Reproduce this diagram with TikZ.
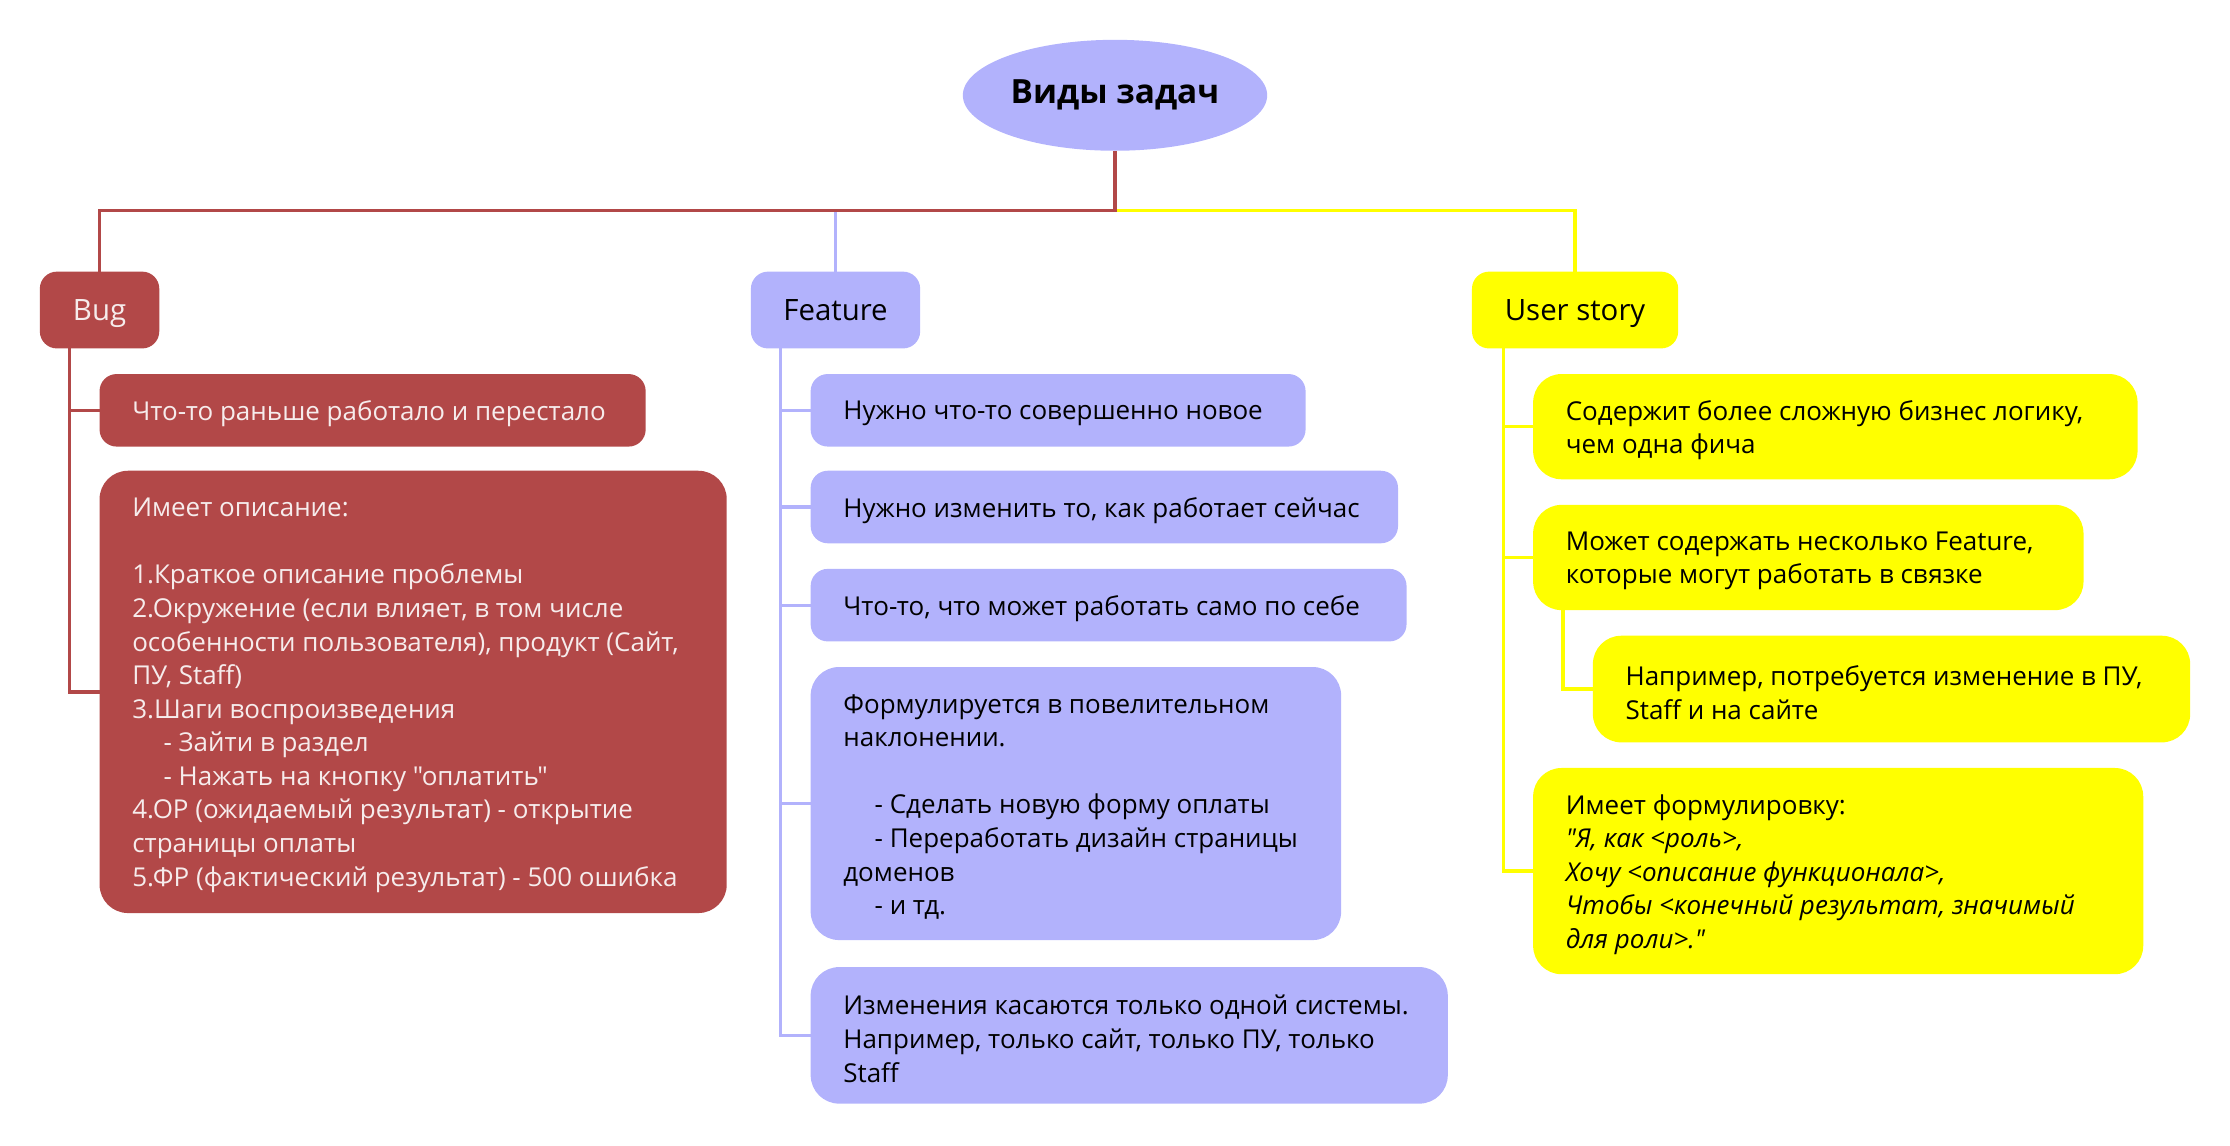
\documentclass[tikz,border=0pt]{standalone}
\usepackage{fontspec}
\setmainfont{Open Sans}
\newfontfamily\osans{Open Sans}
\usetikzlibrary{shapes.geometric}
\definecolor{bugred}{RGB}{178,72,72}
\definecolor{lav}{RGB}{178,178,252}
\definecolor{yel}{RGB}{255,255,0}
\definecolor{light}{RGB}{246,236,236}
\begin{document}
\osans
\begin{tikzpicture}[x=0.75pt,y=-0.75pt,
  every node/.style={inner sep=0pt, outer sep=0pt},
  topic/.style={rounded corners=9pt, minimum height=40.5pt, text height=13pt, text depth=2pt, font=\osans\fontsize{15.5}{18}\selectfont},
  box/.style={anchor=north west, rounded corners=9pt},
  bigbox/.style={box, rounded corners=15pt},
  txt/.style={anchor=west, align=left, yshift=-1.8pt, font=\osans\fontsize{13.7}{17.7}\selectfont},
  redfill/.style={fill=bugred},
  lavfill/.style={fill=lav},
  yelfill/.style={fill=yel},
  redtxt/.style={txt, text=light},
  blktxt/.style={txt, text=black},
  conn/.style={line width=1.7pt},
  redline/.style={conn, draw=bugred},
  lavline/.style={conn, draw=lav},
  yelline/.style={conn, draw=yel}
]
\useasboundingbox (0,0) rectangle (1568,805.8);

% root and topics
\node[ellipse, fill=lav, minimum width=160.5pt, minimum height=58.5pt, font=\osans\bfseries\fontsize{17.6}{20}\selectfont] (root) at (784,67) {Виды задач};
\node[topic, redfill, text=light, minimum width=63pt] (bug) at (70,218) {Bug};
\node[topic, lavfill, minimum width=89.25pt] (fea) at (587.5,218) {Feature};
\node[topic, yelfill, minimum width=108.75pt] (us) at (1107.5,218) {User story};

% Bug children
\node[box, redfill, minimum width=288pt, minimum height=38.25pt] (b1) at (70,263) {};
\node[redtxt] (b1t) at ([xshift=17.25pt]b1.west) {Что-то раньше работало и перестало};
\node[bigbox, redfill, minimum width=330.75pt, minimum height=233.25pt] (b2) at (70,331) {};
\node[redtxt] (b2t) at ([xshift=17.25pt]b2.west) {Имеет описание:\\[17.7pt]1.Краткое описание проблемы\\2.Окружение (если влияет, в том числе\\особенности пользователя), продукт (Сайт,\\ПУ, Staff)\\3.Шаги воспроизведения\\\hspace*{16.5pt}- Зайти в раздел\\\hspace*{16.5pt}- Нажать на кнопку "оплатить"\\4.ОР (ожидаемый результат) - открытие\\страницы оплаты\\5.ФР (фактический результат) - 500 ошибка};

% Feature children
\node[box, lavfill, minimum width=261pt, minimum height=38.25pt] (f1) at (570,263) {};
\node[blktxt] (f1t) at ([xshift=17.25pt]f1.west) {Нужно что-то совершенно новое};
\node[box, lavfill, minimum width=309.75pt, minimum height=38.25pt] (f2) at (570,331) {};
\node[blktxt] (f2t) at ([xshift=17.25pt]f2.west) {Нужно изменить то, как работает сейчас};
\node[box, lavfill, minimum width=314.25pt, minimum height=38.25pt] (f3) at (570,400) {};
\node[blktxt] (f3t) at ([xshift=17.25pt]f3.west) {Что-то, что может работать само по себе};
\node[bigbox, lavfill, minimum width=279.75pt, minimum height=144pt] (f4) at (570,469) {};
\node[blktxt] (f4t) at ([xshift=17.25pt]f4.west) {Формулируется в повелительном\\наклонении.\\[17.7pt]\hspace*{16.5pt}- Сделать новую форму оплаты\\\hspace*{16.5pt}- Переработать дизайн страницы\\доменов\\\hspace*{16.5pt}- и тд.};
\node[bigbox, lavfill, minimum width=336pt, minimum height=72pt] (f5) at (570,680) {};
\node[blktxt] (f5t) at ([xshift=17.25pt]f5.west) {Изменения касаются только одной системы.\\Например, только сайт, только ПУ, только\\Staff};

% User story children
\node[bigbox, yelfill, minimum width=318.75pt, minimum height=55.5pt] (u1) at (1078,263) {};
\node[blktxt] (u1t) at ([xshift=17.25pt]u1.west) {Содержит более сложную бизнес логику,\\чем одна фича};
\node[bigbox, yelfill, minimum width=290.25pt, minimum height=55.5pt] (u2) at (1078,355) {};
\node[blktxt] (u2t) at ([xshift=17.25pt]u2.west) {Может содержать несколько Feature,\\которые могут работать в связке};
\node[bigbox, yelfill, minimum width=315pt, minimum height=56.25pt] (u2a) at (1120,447) {};
\node[blktxt] (u2at) at ([xshift=17.25pt]u2a.west) {Например, потребуется изменение в ПУ,\\Staff и на сайте};
\node[bigbox, yelfill, minimum width=321.75pt, minimum height=108.75pt] (u3) at (1078,540) {};
\node[blktxt] (u3t) at ([xshift=17.25pt]u3.west) {Имеет формулировку:\\\textit{"Я, как <роль>,}\\\textit{Хочу <описание функционала>,}\\\textit{Чтобы <конечный результат, значимый}\\\textit{для роли>."}};

% top connectors
\coordinate (hub) at (784,148);
\draw[lavline] (fea.north) -- (fea.north |- hub);
\draw[yelline] (hub) -| (us.north);
\draw[redline] (root.south) -- (hub) -| (bug.north);

% child connectors
\draw[redline] ([xshift=15.75pt]bug.south west) |- (b1.west);
\draw[redline] ([xshift=15.75pt]bug.south west) |- (b2.west);
\foreach \c in {f1,f2,f3,f4,f5}
  \draw[lavline] ([xshift=15.75pt]fea.south west) |- (\c.west);
\foreach \c in {u1,u2,u3}
  \draw[yelline] ([xshift=16.5pt]us.south west) |- (\c.west);
\draw[yelline] ([xshift=15.75pt]u2.south west) |- (u2a.west);
\end{tikzpicture}
\end{document}
